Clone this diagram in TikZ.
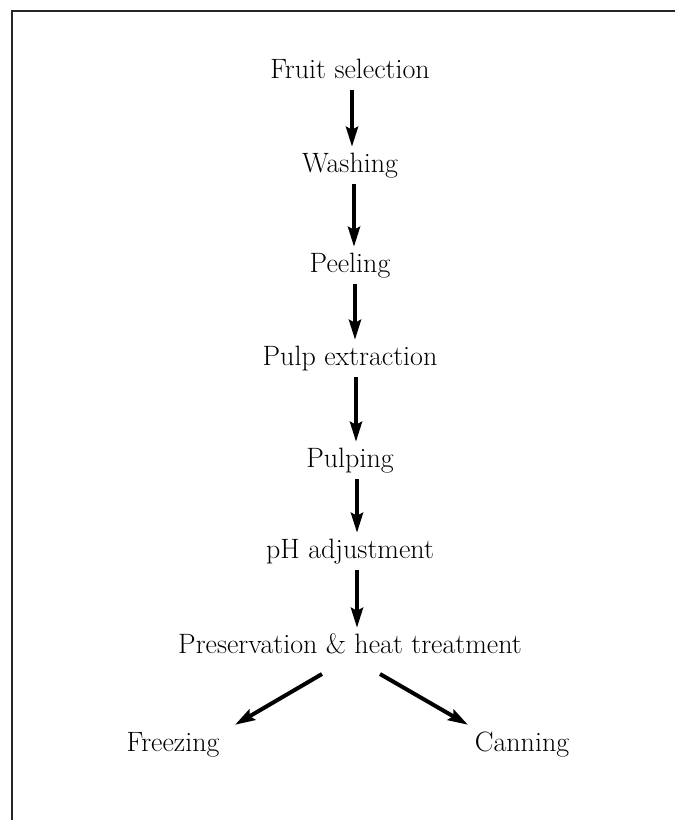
\documentclass[tikz,border=0pt]{standalone}
\usetikzlibrary{arrows.meta}
\begin{document}
\begin{tikzpicture}[x=1pt,y=-1pt,
  lbl/.style={inner sep=0pt, anchor=base, text height=20pt, text depth=6pt, font=\fontsize{28}{32}\selectfont},
  arr/.style={line width=4pt, -{Stealth[length=20pt,width=12pt,inset=3pt]}, shorten <=6pt, shorten >=5pt}]
\useasboundingbox (0,0) rectangle (675,820);
\draw[line width=2pt, black!85] (675,11) -- (12,11) -- (12,820);
\node[lbl] (n1) at (350,78) {Fruit selection};
\node[lbl] (n2) at (350,172) {Washing};
\node[lbl] (n3) at (350,272) {Peeling};
\node[lbl] (n4) at (350,365) {Pulp extraction};
\node[lbl] (n5) at (350,467) {Pulping};
\node[lbl] (n6) at (350,558) {pH adjustment};
\node[lbl] (n7) at (350,653) {Preservation \& heat treatment};
\node[lbl] (n8) at (173,751) {Freezing};
\node[lbl] (n9) at (522,751) {Canning};
\draw[arr] ([xshift=2pt]n1.south) -- ([xshift=2pt]n2.north);
\draw[arr] ([xshift=4pt]n2.south) -- ([xshift=4pt]n3.north);
\draw[arr] ([xshift=5pt]n3.south) -- ([xshift=5pt]n4.north);
\draw[arr] ([xshift=6pt]n4.south) -- ([xshift=6pt]n5.north);
\draw[arr] ([xshift=7pt]n5.south) -- ([xshift=7pt]n6.north);
\draw[arr] ([xshift=7pt]n6.south) -- ([xshift=7pt]n7.north);
\coordinate (s1) at (322,674);
\coordinate (s2) at (380,674);
\draw[arr, shorten <=0pt, shorten >=0pt] (s1) -- ([xshift=62pt,yshift=6pt]n8.north);
\draw[arr, shorten <=0pt, shorten >=0pt] (s2) -- ([xshift=-54pt,yshift=6pt]n9.north);
\end{tikzpicture}
\end{document}
